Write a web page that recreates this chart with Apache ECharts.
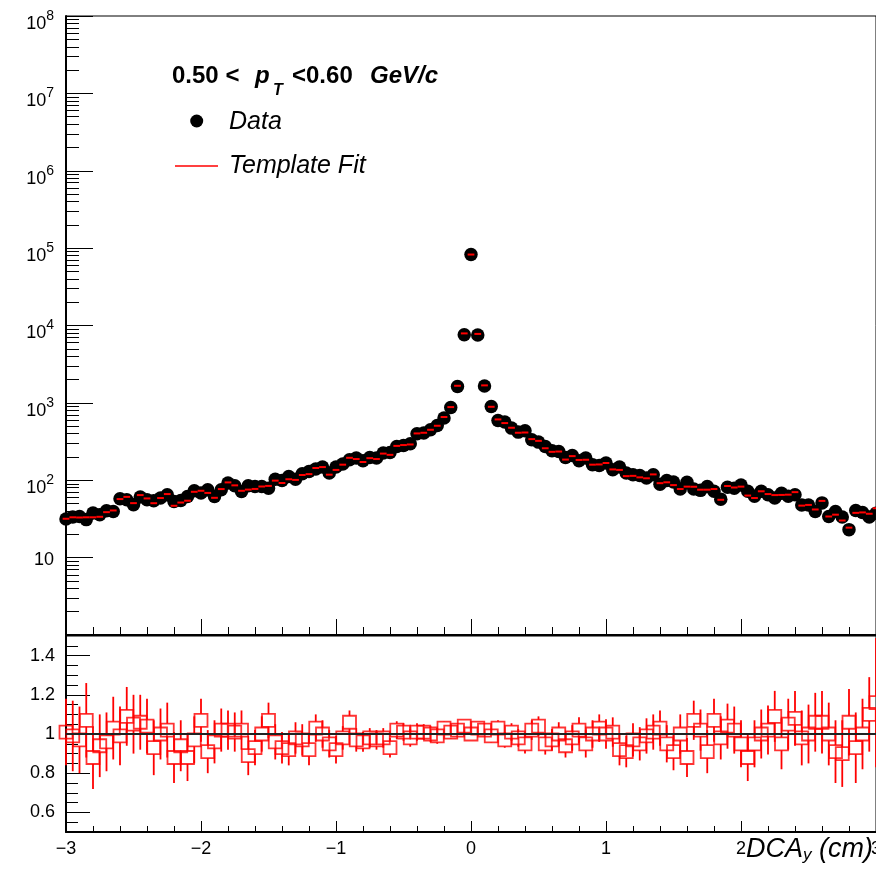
<!DOCTYPE html>
<html><head><meta charset="utf-8">
<script src="https://cdn.jsdelivr.net/npm/echarts@6/dist/echarts.min.js"></script>
<style>html,body{margin:0;padding:0;background:#fff}#c{width:876px;height:882px}</style>
</head><body><div id="c"></div>
<script>
// ---- data ----
const binCenters = [-3,-2.95,-2.9,-2.85,-2.8,-2.75,-2.7,-2.65,-2.6,-2.55,-2.5,-2.45,-2.4,-2.35,-2.3,-2.25,-2.2,-2.15,-2.1,-2.05,-2,-1.95,-1.9,-1.85,-1.8,-1.75,-1.7,-1.65,-1.6,-1.55,-1.5,-1.45,-1.4,-1.35,-1.3,-1.25,-1.2,-1.15,-1.1,-1.05,-1,-0.95,-0.9,-0.85,-0.8,-0.75,-0.7,-0.65,-0.6,-0.55,-0.5,-0.45,-0.4,-0.35,-0.3,-0.25,-0.2,-0.15,-0.1,-0.05,0,0.05,0.1,0.15,0.2,0.25,0.3,0.35,0.4,0.45,0.5,0.55,0.6,0.65,0.7,0.75,0.8,0.85,0.9,0.95,1,1.05,1.1,1.15,1.2,1.25,1.3,1.35,1.4,1.45,1.5,1.55,1.6,1.65,1.7,1.75,1.8,1.85,1.9,1.95,2,2.05,2.1,2.15,2.2,2.25,2.3,2.35,2.4,2.45,2.5,2.55,2.6,2.65,2.7,2.75,2.8,2.85,2.9,2.95,3];
const binHalfWidth = 0.025;
const dataCounts = [31.5,33.5,34,31,37.7,35.8,40.3,39.5,57.7,56,48.2,60.7,56,54.3,58.9,65,53.2,54.8,61.8,73.1,68.3,75.4,61.8,75.4,92,85,71.7,85,83,83,79,103,99,112,103,121,130,140,148,124,148,162,184,194,179,197,194,225,229,273,282,296,399,407,449,511,637,873,1630,7600,82600,7560,1650,899,593,565,472,419,436,333,311,273,240,235,197,209,179,194,159,155,167,137,148,124,118,115,107,118,89,99,95,77,94,77,74,83,72,57,81,79,87,72,62,72,65,59,68,62,65,48,48,39.5,51,34,39.5,33.5,23,40.7,38.4,33.5,37.5];
const fitValues = [31.8,33.2,33,33.2,33.2,33.7,38.7,40.7,57.1,61,50.6,64.3,58.2,50.5,58.9,66.3,46.8,51.5,54.4,70.9,73.1,68.6,59.3,76.9,93.8,85.9,73.1,75.7,77.2,83,84.5,98.9,92.1,103,101,117,120,144,148,118,136,159,195,188,172,193,188,221,213,278,285,290,403,411,449,506,656,882,1663,7904,82600,7787,1683,890,611,548,477,411,414,340,323,259,233,235,185,205,183,184,159,160,167,138,136,113,114,109,106,119,91.7,94.1,86.5,77,82.7,82.4,75.5,75.5,77,55.9,84.2,80.6,82.7,63.4,58.9,72,66.3,64.3,64.6,65.1,70.2,47,48,41.9,54.1,34,35.9,30.2,24.4,37.9,38.4,36.9,43.5];
const ratioValues = [1.01,0.99,0.97,1.07,0.88,0.94,0.96,1.03,0.99,1.09,1.05,1.06,1.04,0.93,1.0,1.02,0.88,0.94,0.88,0.97,1.07,0.91,0.96,1.02,1.02,1.01,1.02,0.89,0.93,1.0,1.07,0.96,0.93,0.92,0.98,0.97,0.92,1.03,1.0,0.95,0.92,0.98,1.06,0.97,0.96,0.98,0.97,0.98,0.93,1.02,1.01,0.98,1.01,1.01,1.0,0.99,1.03,1.01,1.02,1.04,1.0,1.03,1.02,0.99,1.03,0.97,1.01,0.98,0.95,1.02,1.04,0.95,0.97,1.0,0.94,0.98,1.02,0.95,1.0,1.03,1.0,1.01,0.92,0.91,0.97,0.95,0.99,1.01,1.03,0.95,0.91,1.0,0.88,1.07,1.02,0.91,1.07,0.98,1.04,1.02,0.95,0.88,0.95,1.0,1.02,1.09,0.95,1.05,1.08,0.98,1.0,1.06,1.06,1.0,0.91,0.9,1.06,0.93,1.0,1.1,1.16];
const ratioErrors = [0.17,0.18,0.17,0.19,0.16,0.16,0.15,0.16,0.15,0.15,0.15,0.14,0.14,0.14,0.13,0.14,0.13,0.13,0.12,0.12,0.11,0.11,0.11,0.11,0.10,0.10,0.10,0.10,0.09,0.09,0.09,0.09,0.08,0.08,0.08,0.08,0.08,0.07,0.07,0.07,0.07,0.06,0.06,0.06,0.05,0.05,0.05,0.05,0.05,0.045,0.045,0.045,0.045,0.04,0.04,0.04,0.035,0.035,0.025,0.012,0.004,0.012,0.025,0.035,0.04,0.04,0.045,0.045,0.05,0.05,0.05,0.055,0.055,0.06,0.06,0.065,0.065,0.07,0.07,0.07,0.075,0.075,0.08,0.08,0.085,0.085,0.09,0.09,0.09,0.095,0.095,0.1,0.1,0.1,0.105,0.11,0.11,0.11,0.115,0.12,0.12,0.12,0.12,0.125,0.125,0.13,0.13,0.13,0.14,0.14,0.15,0.15,0.16,0.16,0.16,0.17,0.17,0.18,0.18,0.19,0.33];
const xTickValues = [-3,-2,-1,0,1,2,3];
const logDecades = [1,10,100,1000,10000,100000,1000000,10000000,100000000];
const ratioLabelValues = [0.6,0.8,1,1.2,1.4];
const ratioReference = 1;

// ---- axis decorations ----
const logMinor = [];
logDecades.slice(0, -1).forEach(d => { for (let k = 2; k <= 9; k++) logMinor.push(d * k); });
const ratioMinor = [];
for (let v = 55; v <= 145; v += 5) ratioMinor.push(v / 100);

const FONT = '"Liberation Sans", Arial, Helvetica, sans-serif';
const BLACK = '#000';
const RED = '#ff0000';

const dataPts = binCenters.map((x, i) => [x, dataCounts[i]]);
const fitPts = binCenters.map((x, i) => [x, fitValues[i]]);
const ratioPts = binCenters.map((x, i) => [x, ratioValues[i], ratioErrors[i]]);

const chart = echarts.init(document.getElementById('c'), null, {renderer: 'canvas'});
const tickStyle = {color: BLACK, width: 1};

const option = {
  animation: false,
  backgroundColor: '#fff',
  grid: [
    {left: 66, right: 0, top: 16, height: 619, show: true, borderColor: BLACK, borderWidth: 1, containLabel: false, outerBoundsMode: 'none'},
    {left: 66, right: 0, top: 636, height: 196, show: true, borderColor: BLACK, borderWidth: 1, containLabel: false, outerBoundsMode: 'none'}
  ],
  xAxis: [
    {gridIndex: 0, type: 'value', min: -3, max: 3, interval: 1,
      axisLine: {onZero: false, lineStyle: {color: BLACK, width: 2}},
      axisTick: {inside: true, length: 16, lineStyle: tickStyle},
      minorTick: {show: true, splitNumber: 5, length: 8, lineStyle: tickStyle},
      axisLabel: {show: false}, splitLine: {show: false}},
    {gridIndex: 1, type: 'value', min: -3, max: 3, interval: 1,
      axisLine: {onZero: false, lineStyle: {color: BLACK, width: 2}},
      axisTick: {inside: true, length: 11, lineStyle: tickStyle},
      minorTick: {show: true, splitNumber: 5, length: 6, lineStyle: tickStyle},
      axisLabel: {show: true, fontSize: 18, color: BLACK, fontFamily: FONT, margin: 8,
        customValues: xTickValues, hideOverlap: false,
        formatter: v => (v < 0 ? '\u2212' + Math.abs(v) : String(v))},
      splitLine: {show: false}}
  ],
  yAxis: [
    {gridIndex: 0, type: 'log', logBase: 10, min: 1, max: 1e8,
      axisLine: {onZero: false, lineStyle: {color: BLACK, width: 2}},
      axisTick: {inside: true, length: 27, lineStyle: tickStyle, customValues: logDecades},
      axisLabel: {margin: 12, customValues: logDecades, color: BLACK, fontFamily: FONT,
        formatter: v => {
          const e = Math.round(Math.log10(v));
          if (e === 0) return '';
          if (e === 1) return '{p|10}';
          return '{b|10}{s|' + e + '}';
        },
        rich: {
          b: {fontSize: 18, fontFamily: FONT, color: BLACK, lineHeight: 18, verticalAlign: 'bottom'},
          s: {fontSize: 14, fontFamily: FONT, color: BLACK, lineHeight: 34, verticalAlign: 'middle'},
          p: {fontSize: 18, fontFamily: FONT, color: BLACK, lineHeight: 18, padding: [4, 0, 0, 0]}
        }},
      splitLine: {show: false}},
    {gridIndex: 0, type: 'log', logBase: 10, min: 1, max: 1e8, position: 'left',
      axisLine: {show: false, onZero: false},
      axisTick: {inside: true, length: 13, lineStyle: tickStyle, customValues: logMinor},
      axisLabel: {show: false}, splitLine: {show: false}},
    {gridIndex: 1, type: 'value', min: 0.5, max: 1.5,
      axisLine: {onZero: false, lineStyle: {color: BLACK, width: 2}},
      axisTick: {inside: true, length: 24, lineStyle: tickStyle, customValues: ratioLabelValues},
      axisLabel: {margin: 11, fontSize: 18, color: BLACK, fontFamily: FONT, customValues: ratioLabelValues,
        formatter: v => String(+v.toFixed(2))},
      splitLine: {show: false}},
    {gridIndex: 1, type: 'value', min: 0.5, max: 1.5, position: 'left',
      axisLine: {show: false, onZero: false},
      axisTick: {inside: true, length: 12, lineStyle: tickStyle, customValues: ratioMinor},
      axisLabel: {show: false}, splitLine: {show: false}}
  ],
  series: [
    {name: 'Data', type: 'scatter', xAxisIndex: 0, yAxisIndex: 0, data: dataPts,
      symbol: 'circle', symbolSize: 13.5, itemStyle: {color: BLACK, opacity: 1}, z: 3, silent: true},
    {name: 'Template Fit', type: 'custom', xAxisIndex: 0, yAxisIndex: 0, data: fitPts, z: 4, silent: true,
      renderItem: (params, api) => {
        const x = api.value(0), v = api.value(1);
        const a = api.coord([x - binHalfWidth, v]);
        const b = api.coord([x + binHalfWidth, v]);
        return {type: 'line', shape: {x1: a[0], y1: a[1], x2: b[0], y2: b[1]},
          style: {stroke: RED, lineWidth: 2}};
      }},
    {name: 'RatioErr', type: 'custom', xAxisIndex: 1, yAxisIndex: 2, data: ratioPts, z: 3, silent: true,
      renderItem: (params, api) => {
        const x = api.value(0), r = api.value(1), e = api.value(2);
        const c = api.coord([x, r]);
        const hi = api.coord([x, Math.min(r + e, 1.5)]);
        const lo = api.coord([x, Math.max(r - e, 0.5)]);
        const half = 6.5;
        const kids = [];
        if (c[1] - half > hi[1]) kids.push({type: 'line', shape: {x1: c[0], y1: hi[1], x2: c[0], y2: c[1] - half}, style: {stroke: RED, lineWidth: 1.8}});
        if (lo[1] > c[1] + half) kids.push({type: 'line', shape: {x1: c[0], y1: c[1] + half, x2: c[0], y2: lo[1]}, style: {stroke: RED, lineWidth: 1.8}});
        return {type: 'group', children: kids};
      }},
    {name: 'Ratio', type: 'scatter', xAxisIndex: 1, yAxisIndex: 2, data: ratioPts.map(p => [p[0], p[1]]),
      symbol: 'rect', symbolSize: 13, z: 3, silent: true,
      itemStyle: {color: 'rgba(0,0,0,0)', borderColor: RED, borderWidth: 1.8}},
    {name: 'Unity', type: 'line', xAxisIndex: 1, yAxisIndex: 2, data: [], z: 6, silent: true,
      markLine: {silent: true, symbol: 'none', label: {show: false}, animation: false,
        lineStyle: {color: '#222', width: 2, type: 'solid'},
        data: [{yAxis: ratioReference}]}}
  ],
  graphic: [
    {type: 'text', x: 172, y: 76, style: {text: '0.50 <', font: 'bold 24px ' + FONT, fill: BLACK, verticalAlign: 'middle'}},
    {type: 'text', x: 255, y: 76, style: {text: 'p', font: 'italic bold 24px ' + FONT, fill: BLACK, verticalAlign: 'middle'}},
    {type: 'text', x: 273, y: 91, style: {text: 'T', font: 'italic bold 16px ' + FONT, fill: BLACK, verticalAlign: 'middle'}},
    {type: 'text', x: 292, y: 76, style: {text: '<0.60', font: 'bold 24px ' + FONT, fill: BLACK, verticalAlign: 'middle'}},
    {type: 'text', x: 370, y: 76, style: {text: 'GeV/c', font: 'italic bold 24px ' + FONT, fill: BLACK, verticalAlign: 'middle'}},
    {type: 'circle', shape: {cx: 196.7, cy: 121, r: 6.5}, style: {fill: BLACK}},
    {type: 'text', x: 229, y: 122, style: {text: 'Data', font: 'italic 25px ' + FONT, fill: BLACK, verticalAlign: 'middle'}},
    {type: 'line', shape: {x1: 175, y1: 166, x2: 218, y2: 166}, style: {stroke: RED, lineWidth: 1.5}},
    {type: 'text', x: 229, y: 166, style: {text: 'Template Fit', font: 'italic 25px ' + FONT, fill: BLACK, verticalAlign: 'middle'}},
    {type: 'text', x: 873, y: 849, style: {text: '{m|DCA}{u|y}{m| (cm)}', align: 'right', verticalAlign: 'middle',
      rich: {
        m: {fontSize: 27, fontStyle: 'italic', fontFamily: FONT, fill: BLACK, lineHeight: 30},
        u: {fontSize: 17, fontStyle: 'italic', fontFamily: FONT, fill: BLACK, lineHeight: 17, verticalAlign: 'bottom'}
      }}}
  ]
};
chart.setOption(option);
</script>
</body></html>
